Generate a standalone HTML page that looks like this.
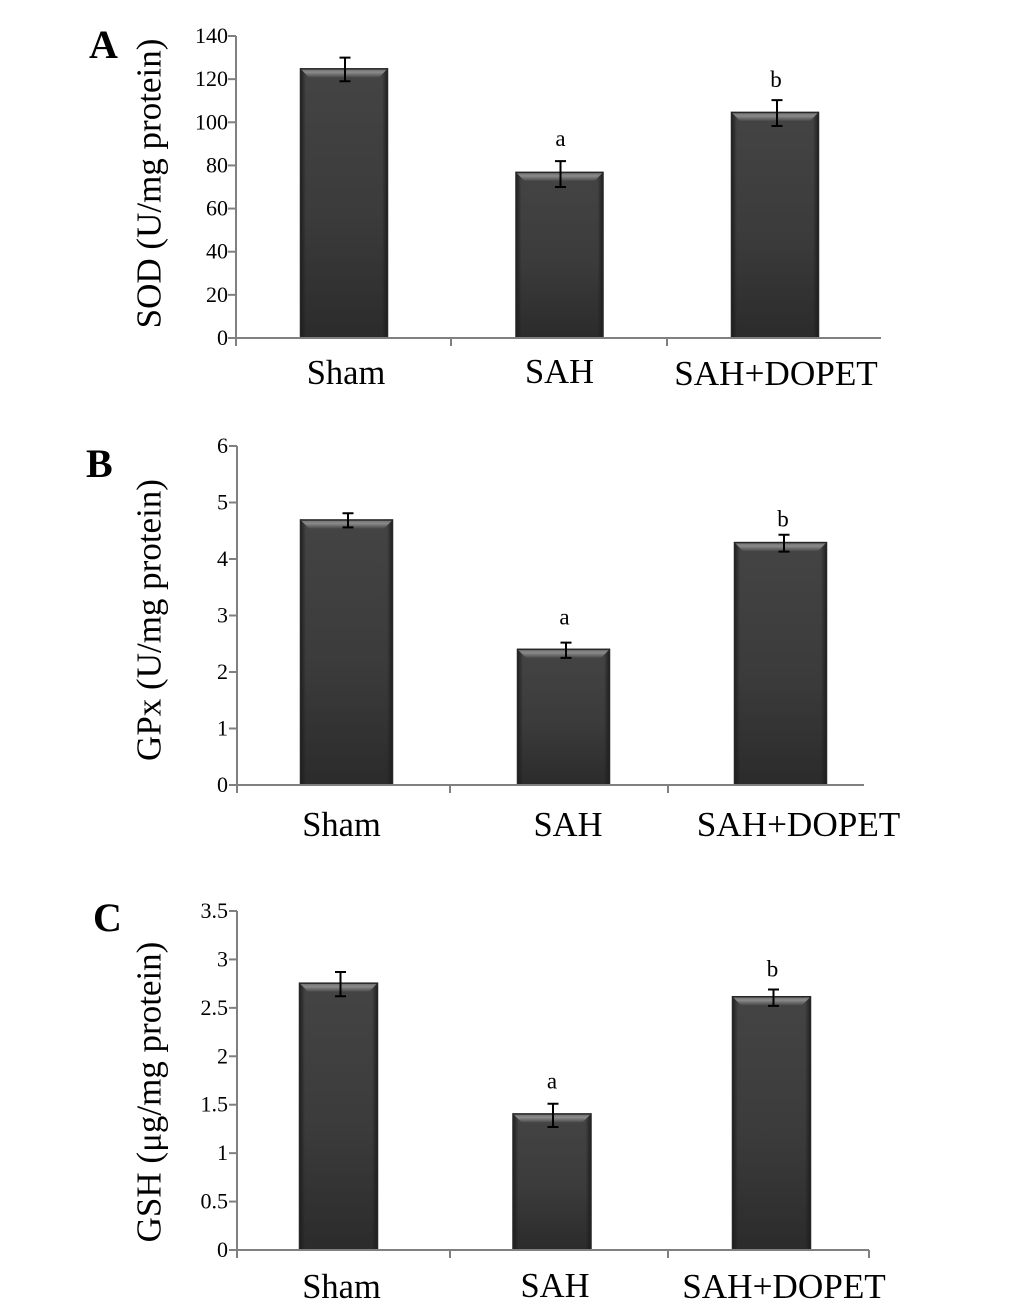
<!DOCTYPE html>
<html lang="en">
<head>
<meta charset="utf-8">
<title>SOD, GPx and GSH levels by group</title>
<style>
html,body{margin:0;padding:0;background:#fff;}
svg{display:block;font-family:"Liberation Serif","DejaVu Serif",serif;}
</style>
</head>
<body>
<svg id="chart" width="1033" height="1304" viewBox="0 0 1033 1304" xmlns="http://www.w3.org/2000/svg">
  <defs>
    <linearGradient id="bodyGrad" x1="0" y1="0" x2="0" y2="1">
      <stop offset="0" stop-color="#444444"/>
      <stop offset="0.55" stop-color="#3b3b3b"/>
      <stop offset="1" stop-color="#2b2b2b"/>
    </linearGradient>
    <linearGradient id="leftEdge" x1="0" y1="0" x2="1" y2="0">
      <stop offset="0" stop-color="#1c1c1c"/>
      <stop offset="1" stop-color="#1c1c1c" stop-opacity="0"/>
    </linearGradient>
    <linearGradient id="rightEdge" x1="0" y1="0" x2="1" y2="0">
      <stop offset="0" stop-color="#1c1c1c" stop-opacity="0"/>
      <stop offset="1" stop-color="#1c1c1c"/>
    </linearGradient>
    <linearGradient id="bevelGrad" x1="0" y1="0" x2="0" y2="1">
      <stop offset="0" stop-color="#6a6a6a"/>
      <stop offset="0.45" stop-color="#8a8a8a"/>
      <stop offset="1" stop-color="#4a4a4a"/>
    </linearGradient>
  </defs>
</svg>
<script>
const categories = ['Sham', 'SAH', 'SAH+DOPET'];
const significance = ['', 'a', 'b'];

const sodValues = [125, 77, 104.8];
const sodErrHigh = [130, 82, 110.3];
const sodErrLow = [119, 70, 98.3];
const sodTicks = ['0', '20', '40', '60', '80', '100', '120', '140'];

const gpxValues = [4.7, 2.41, 4.3];
const gpxErrHigh = [4.81, 2.52, 4.43];
const gpxErrLow = [4.56, 2.25, 4.13];
const gpxTicks = ['0', '1', '2', '3', '4', '5', '6'];

const gshValues = [2.76, 1.41, 2.62];
const gshErrHigh = [2.87, 1.51, 2.69];
const gshErrLow = [2.62, 1.27, 2.52];
const gshTicks = ['0', '0.5', '1', '1.5', '2', '2.5', '3', '3.5'];

const panels = [
  { key: 'sod', letter: 'A', letterX: 89, letterY: 58, title: 'SOD (U/mg protein)',
    values: sodValues, high: sodErrHigh, low: sodErrLow, ticks: sodTicks,
    axisX: 236, axisEnd: 881, y0: 338, yTop: 36, xTickX: [451, 667],
    barStart: 344, barStep: 215.5, barW: 88, barNudge: [0, 0, 0], errNudge: [1, 1, 2],
    labelNudge: [2, 0, 1], labelBase: [384, 383, 385], noteNudge: [0, 1, 1], noteGap: [0, 15, 13], titleY: 183.5 },
  { key: 'gpx', letter: 'B', letterX: 86, letterY: 477, title: 'GPx (U/mg protein)',
    values: gpxValues, high: gpxErrHigh, low: gpxErrLow, ticks: gpxTicks,
    axisX: 237, axisEnd: 864, y0: 785, yTop: 446, xTickX: [450, 668],
    barStart: 346.5, barStep: 217, barW: 93, barNudge: [0, 0, 0], errNudge: [1.5, 2.5, 3.5],
    labelNudge: [-5, 4.5, 18], labelBase: [836, 836, 836], noteNudge: [0, 1, 2.5], noteGap: [0, 18, 8], titleY: 620 },
  { key: 'gsh', letter: 'C', letterX: 93, letterY: 931, title: 'GSH (\u03bcg/mg protein)',
    values: gshValues, high: gshErrHigh, low: gshErrLow, ticks: gshTicks,
    axisX: 237, axisEnd: 869, y0: 1250, yTop: 911, xTickX: [450, 668, 869],
    barStart: 338.5, barStep: 216.5, barW: 79, barNudge: [0, -3, 0], errNudge: [2, 1, 2],
    labelNudge: [3, 3, 12.5], labelBase: [1298, 1297, 1298], noteNudge: [0, 0, 1], noteGap: [0, 15, 13], titleY: 1092 }
];

const NS = 'http://www.w3.org/2000/svg';
const root = document.getElementById('chart');

function make(tag, attrs, parent, text) {
  const node = document.createElementNS(NS, tag);
  for (const k in attrs) node.setAttribute(k, attrs[k]);
  if (text !== undefined) node.textContent = text;
  parent.appendChild(node);
  return node;
}
function slug(s) {
  return s.toLowerCase().replace(/[^a-z0-9]+/g, '-');
}

panels.forEach(function (p) {
  const maxTick = parseFloat(p.ticks[p.ticks.length - 1]);
  const yScale = function (v) { return p.y0 - (v / maxTick) * (p.y0 - p.yTop); };
  const xBand = function (i) { return p.barStart + i * p.barStep + p.barNudge[i]; };

  const panel = make('g', {}, root);
  
  

  const letter = make('text', { x: p.letterX, y: p.letterY, 'font-size': 40, 'font-weight': 'bold', fill: '#000' }, panel, p.letter);
  
  

  const title = make('text', {
    transform: 'translate(160.5 ' + p.titleY + ') rotate(-90)',
    'text-anchor': 'middle', 'font-size': 35, fill: '#000'
  }, panel, p.title);
  
  

  categories.forEach(function (cat, i) {
    const cx = xBand(i);
    const w = p.barW;
    const left = cx - w / 2;
    const top = yScale(p.values[i]);
    const h = p.y0 - top;
    const bevel = 9;

    const bar = make('g', {}, panel);
    
    

    make('rect', { x: left, y: top, width: w, height: h, fill: 'url(#bodyGrad)' }, bar);
    make('rect', { x: left, y: top, width: 6, height: h, fill: 'url(#leftEdge)' }, bar);
    make('rect', { x: left + w - 6, y: top, width: 6, height: h, fill: 'url(#rightEdge)' }, bar);
    make('polygon', {
      points: left + ',' + top + ' ' + (left + w) + ',' + top + ' ' + (left + w - bevel) + ',' + (top + bevel) + ' ' + (left + bevel) + ',' + (top + bevel),
      fill: 'url(#bevelGrad)'
    }, bar);
    make('rect', { x: left + 0.5, y: top + 0.5, width: w - 1, height: h - 0.5, fill: 'none', stroke: '#262626', 'stroke-width': 1.5 }, bar);

    const ex = cx + p.errNudge[i];
    const eHi = yScale(p.high[i]);
    const eLo = yScale(p.low[i]);
    const err = make('path', {
      d: 'M' + (ex - 5.5) + ' ' + eHi + 'H' + (ex + 5.5) + 'M' + ex + ' ' + eHi + 'V' + eLo + 'M' + (ex - 5.5) + ' ' + eLo + 'H' + (ex + 5.5),
      stroke: '#000', 'stroke-width': 2, fill: 'none'
    }, panel);
    
    

    if (significance[i]) {
      const note = make('text', {
        x: cx + p.noteNudge[i], y: eHi - p.noteGap[i],
        'text-anchor': 'middle', 'font-size': 23, fill: '#000'
      }, panel, significance[i]);
      
      
    }

    const label = make('text', {
      x: cx + p.labelNudge[i], y: p.labelBase[i],
      'text-anchor': 'middle', 'font-size': cat.length > 5 ? 35.2 : 34.5, fill: '#000'
    }, panel, cat);
    
    
  });

  const yAxis = make('line', { x1: p.axisX, x2: p.axisX, y1: p.yTop, y2: p.y0 + 8, stroke: '#808080', 'stroke-width': 2 }, panel);
  
  

  const xAxis = make('line', { x1: p.axisX, x2: p.axisEnd, y1: p.y0, y2: p.y0, stroke: '#808080', 'stroke-width': 2 }, panel);
  
  

  p.xTickX.forEach(function (tx) {
    const xt = make('line', { x1: tx, x2: tx, y1: p.y0, y2: p.y0 + 8, stroke: '#808080', 'stroke-width': 2 }, panel);
    
    
  });

  p.ticks.forEach(function (tickText) {
    const ty = yScale(parseFloat(tickText));
    const mark = make('line', { x1: p.axisX - 8, x2: p.axisX, y1: ty, y2: ty, stroke: '#808080', 'stroke-width': 2 }, panel);
    
    
    const lab = make('text', {
      x: 228, y: ty + 7, 'text-anchor': 'end', 'font-size': 22, fill: '#000'
    }, panel, tickText);
    
    
  });
});
</script>
</body>
</html>
